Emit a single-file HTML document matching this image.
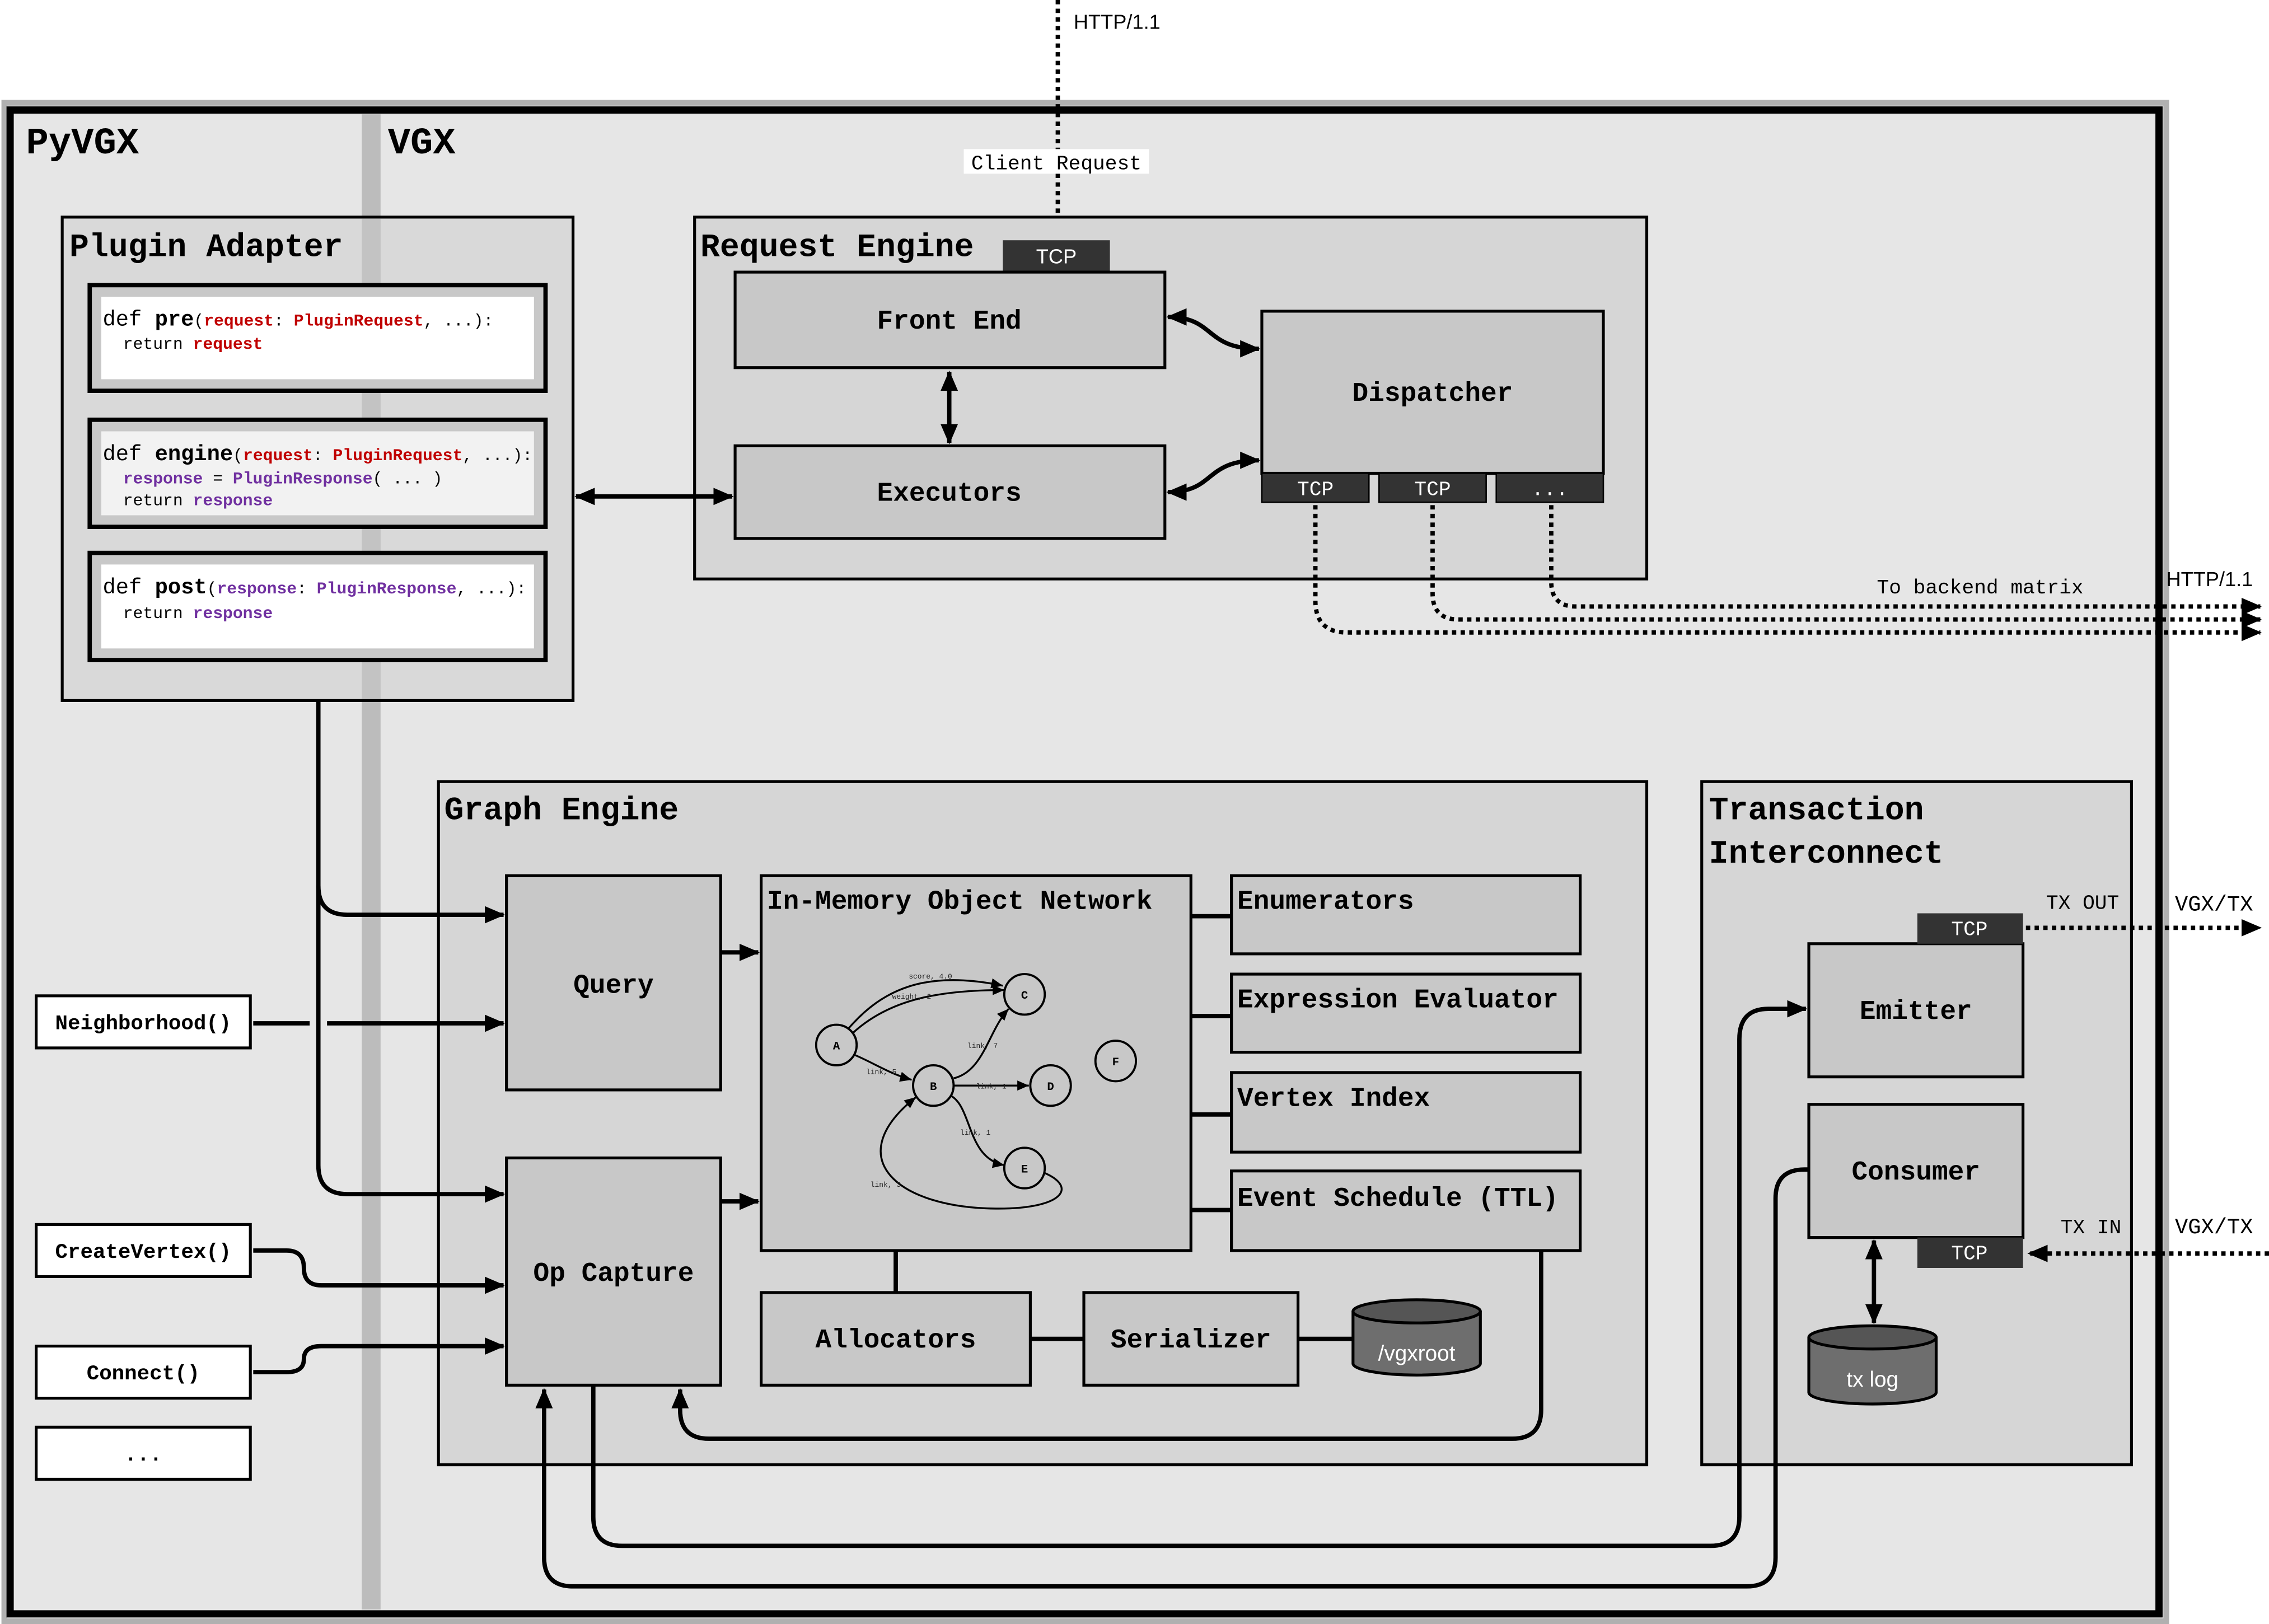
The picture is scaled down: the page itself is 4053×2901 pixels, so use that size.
<!DOCTYPE html>
<html><head><meta charset="utf-8"><style>
html,body{margin:0;padding:0;background:#fff}
svg{display:block}
text{font-family:"Liberation Mono",monospace}
.t{font-weight:bold;font-size:22.5px}
.b{font-weight:bold;font-size:18.5px}
.s{font-family:"Liberation Sans",sans-serif}
</style></head><body>
<svg width="4053" height="2901" viewBox="0 0 1568 1122" preserveAspectRatio="none" xmlns="http://www.w3.org/2000/svg">
<defs>
<marker id="a" markerUnits="userSpaceOnUse" markerWidth="14" markerHeight="12" refX="13" refY="6" orient="auto-start-reverse"><path d="M0,0 L14,6 L0,12 z" fill="#000"/></marker>
<marker id="m" markerUnits="userSpaceOnUse" markerWidth="8" markerHeight="7" refX="8" refY="3.5" orient="auto"><path d="M0,0 L8,3.5 L0,7 z" fill="#000"/></marker>
</defs>
<rect width="1568" height="1122" fill="#fff"/>
<!-- outer frame -->
<rect x="3" y="71" width="1494" height="1049" fill="none" stroke="#b0b0b0" stroke-width="4"/>
<rect x="7" y="76" width="1485" height="1039" fill="#e6e6e6" stroke="#000" stroke-width="5"/>
<rect x="250" y="79" width="13" height="1033" fill="#bcbcbc"/>
<text x="18" y="106" class="t" style="font-size:26px">PyVGX</text>
<text x="268" y="106" class="t" style="font-size:26px">VGX</text>

<!-- Plugin Adapter -->
<rect x="43" y="150" width="353" height="334" fill="#d6d6d6" fill-opacity="0.85" stroke="#000" stroke-width="2"/>
<rect x="250" y="151" width="13" height="332" fill="#bcbcbc" fill-opacity="0.7"/>
<text x="48" y="177" class="t">Plugin Adapter</text>
<g stroke="#000" stroke-width="3" fill="#c8c8c8">
<rect x="62" y="197" width="315" height="73"/>
<rect x="62" y="290" width="315" height="74"/>
<rect x="62" y="382" width="315" height="74"/>
</g>
<rect x="70" y="205" width="299" height="57" fill="#fff"/>
<rect x="70" y="298" width="299" height="58" fill="#f2f2f2"/>
<rect x="70" y="390" width="299" height="58" fill="#fff"/>
<text x="71" y="225" style="font-size:15px">def <tspan font-weight="bold">pre</tspan><tspan font-size="11.5">(<tspan fill="#c00000" font-weight="bold">request</tspan>: <tspan fill="#c00000" font-weight="bold">PluginRequest</tspan>, ...):</tspan></text>
<text x="85" y="241" style="font-size:11.5px">return <tspan fill="#c00000" font-weight="bold">request</tspan></text>
<text x="71" y="318" style="font-size:15px">def <tspan font-weight="bold">engine</tspan><tspan font-size="11.5">(<tspan fill="#c00000" font-weight="bold">request</tspan>: <tspan fill="#c00000" font-weight="bold">PluginRequest</tspan>, ...):</tspan></text>
<text x="85" y="334" style="font-size:11.5px"><tspan fill="#7030a0" font-weight="bold">response</tspan> = <tspan fill="#7030a0" font-weight="bold">PluginResponse</tspan>( ... )</text>
<text x="85" y="349" style="font-size:11.5px">return <tspan fill="#7030a0" font-weight="bold">response</tspan></text>
<text x="71" y="410" style="font-size:15px">def <tspan font-weight="bold">post</tspan><tspan font-size="11.5">(<tspan fill="#7030a0" font-weight="bold">response</tspan>: <tspan fill="#7030a0" font-weight="bold">PluginResponse</tspan>, ...):</tspan></text>
<text x="85" y="427" style="font-size:11.5px">return <tspan fill="#7030a0" font-weight="bold">response</tspan></text>

<!-- Client request -->
<line x1="731" y1="0" x2="731" y2="164" stroke="#000" stroke-width="3" stroke-dasharray="3 3" marker-end="url(#a)"/>
<text x="742" y="20" class="s" font-size="14">HTTP/1.1</text>
<rect x="666" y="103" width="128" height="17" fill="#fff"/>
<text x="730" y="117" font-size="14" text-anchor="middle">Client Request</text>

<!-- Request Engine -->
<rect x="480" y="150" width="658" height="250" fill="#d6d6d6" stroke="#000" stroke-width="2"/>
<text x="484" y="177" class="t">Request Engine</text>
<rect x="693" y="166" width="74" height="21" fill="#333"/>
<text x="730" y="182" text-anchor="middle" fill="#fff" class="s" font-size="14">TCP</text>
<g fill="#c8c8c8" stroke="#000" stroke-width="2">
<rect x="508" y="188" width="297" height="66"/>
<rect x="508" y="308" width="297" height="64"/>
<rect x="872" y="215" width="236" height="112"/>
</g>
<text x="656" y="227" text-anchor="middle" class="b">Front End</text>
<text x="656" y="346" text-anchor="middle" class="b">Executors</text>
<text x="990" y="277" text-anchor="middle" class="b">Dispatcher</text>
<g fill="#333" stroke="#000" stroke-width="1"><rect x="872" y="327" width="74" height="20"/><rect x="953" y="327" width="74" height="20"/><rect x="1034" y="327" width="74" height="20"/></g>
<g fill="#fff" class="s" font-size="14" text-anchor="middle"><text x="909" y="342">TCP</text><text x="990" y="342">TCP</text><text x="1071" y="342">...</text></g>
<g stroke="#000" stroke-width="3" fill="none">
<line x1="656" y1="257" x2="656" y2="306" marker-start="url(#a)" marker-end="url(#a)"/>
<line x1="398" y1="343" x2="506" y2="343" marker-start="url(#a)" marker-end="url(#a)"/>
<path d="M807,219 C840,219 832,241 870,241" marker-start="url(#a)" marker-end="url(#a)"/>
<path d="M807,340 C840,340 832,318 870,318" marker-start="url(#a)" marker-end="url(#a)"/>
</g>
<g stroke="#000" stroke-width="3" fill="none" stroke-dasharray="3 3">
<path d="M909,349 V415 Q909,437 931,437 H1562" marker-end="url(#a)"/>
<path d="M990,349 V410 Q990,428 1008,428 H1562" marker-end="url(#a)"/>
<path d="M1072,349 V402 Q1072,419 1089,419 H1562" marker-end="url(#a)"/>
</g>
<text x="1297" y="410" font-size="14">To backend matrix</text>
<text x="1497" y="405" class="s" font-size="14">HTTP/1.1</text>

<!-- Graph Engine -->
<rect x="303" y="540" width="835" height="472" fill="#d6d6d6" stroke="#000" stroke-width="2"/>
<text x="307" y="566" class="t">Graph Engine</text>
<g fill="#c8c8c8" stroke="#000" stroke-width="2">
<rect x="350" y="605" width="148" height="148"/>
<rect x="350" y="800" width="148" height="157"/>
<rect x="526" y="605" width="297" height="259"/>
<rect x="851" y="605" width="241" height="54"/>
<rect x="851" y="673" width="241" height="54"/>
<rect x="851" y="741" width="241" height="55"/>
<rect x="851" y="809" width="241" height="55"/>
<rect x="526" y="893" width="186" height="64"/>
<rect x="749" y="893" width="148" height="64"/>
</g>
<text x="424" y="686" text-anchor="middle" class="b">Query</text>
<text x="424" y="885" text-anchor="middle" class="b">Op Capture</text>
<text x="530" y="628" class="b">In-Memory Object Network</text>
<text x="855" y="628" class="b">Enumerators</text>
<text x="855" y="696" class="b">Expression Evaluator</text>
<text x="855" y="764" class="b">Vertex Index</text>
<text x="855" y="833" class="b">Event Schedule (TTL)</text>
<text x="619" y="931" text-anchor="middle" class="b">Allocators</text>
<text x="823" y="931" text-anchor="middle" class="b">Serializer</text>
<g stroke="#000" stroke-width="3">
<line x1="823" y1="633" x2="851" y2="633"/><line x1="823" y1="702" x2="851" y2="702"/>
<line x1="823" y1="770" x2="851" y2="770"/><line x1="823" y1="836" x2="851" y2="836"/>
<line x1="619" y1="864" x2="619" y2="893"/><line x1="712" y1="925" x2="749" y2="925"/><line x1="897" y1="925" x2="935" y2="925"/>
</g>
<!-- vgxroot cylinder -->
<path d="M935,906 V942 A44,8 0 0 0 1023,942 V906" fill="#6e6e6e" stroke="#000" stroke-width="2"/>
<ellipse cx="979" cy="906" rx="44" ry="8" fill="#555" stroke="#000" stroke-width="2"/>
<text x="979" y="940" text-anchor="middle" fill="#fff" class="s" font-size="15">/vgxroot</text>
<g stroke="#000" stroke-width="3" fill="none">
<line x1="498" y1="658" x2="524" y2="658" marker-end="url(#a)"/>
<line x1="498" y1="830" x2="524" y2="830" marker-end="url(#a)"/>
<path d="M1065,864 V974 Q1065,994 1045,994 H490 Q470,994 470,974 V960" marker-end="url(#a)"/>
</g>
<!-- network -->
<g stroke="#000" stroke-width="1.3" fill="none">
<path d="M586,711 C610,683 640,670 693,681" marker-end="url(#m)"/>
<path d="M589,714 C615,690 650,684 694,684" marker-end="url(#m)"/>
<path d="M591,729 C605,735 615,742 630,746" marker-end="url(#m)"/>
<path d="M659,745 C680,740 683,712 697,697" marker-end="url(#m)"/>
<path d="M659,750 H711" marker-end="url(#m)"/>
<path d="M657,757 C672,765 668,800 694,805" marker-end="url(#m)"/>
<path d="M721,810 C745,820 735,835 690,835 C620,835 580,800 633,758" marker-end="url(#m)"/>
</g>
<g fill="#c8c8c8" stroke="#000" stroke-width="1.5">
<circle cx="578" cy="722" r="14"/><circle cx="645" cy="750" r="14"/><circle cx="708" cy="687" r="14"/>
<circle cx="726" cy="750" r="14"/><circle cx="708" cy="807" r="14"/><circle cx="771" cy="733" r="14"/>
</g>
<g class="s" font-size="8" font-weight="bold" text-anchor="middle">
<text x="578" y="725">A</text><text x="645" y="753">B</text><text x="708" y="690">C</text>
<text x="726" y="753">D</text><text x="708" y="810">E</text><text x="771" y="736">F</text>
</g>
<g class="s" font-size="5" text-anchor="middle" fill="#222">
<text x="643" y="676">score, 4.0</text><text x="630" y="690">weight, 2</text>
<text x="609" y="742">link, 5</text><text x="679" y="724">link, 7</text>
<text x="685" y="752">link, 1</text><text x="674" y="784">link, 1</text><text x="612" y="820">link, 3</text>
</g>

<!-- left functions -->
<g fill="#fff" stroke="#000" stroke-width="2">
<rect x="25" y="688" width="148" height="36"/><rect x="25" y="846" width="148" height="36"/>
<rect x="25" y="930" width="148" height="36"/><rect x="25" y="986" width="148" height="36"/>
</g>
<g font-size="14.5" font-weight="bold" text-anchor="middle">
<text x="99" y="711">Neighborhood()</text><text x="99" y="869">CreateVertex()</text>
<text x="99" y="953">Connect()</text><text x="99" y="1009">...</text>
</g>
<g stroke="#000" stroke-width="3" fill="none">
<path d="M220,484 V612 Q220,632 240,632 H348" marker-end="url(#a)"/>
<path d="M220,612 V805 Q220,825 240,825 H348" marker-end="url(#a)"/>
<line x1="175" y1="707" x2="214" y2="707"/>
<line x1="226" y1="707" x2="348" y2="707" marker-end="url(#a)"/>
<path d="M175,864 H198 Q210,864 210,876 Q210,888 222,888 H348" marker-end="url(#a)"/>
<path d="M175,948 H198 Q210,948 210,939 Q210,930 222,930 H348" marker-end="url(#a)"/>
</g>

<!-- Transaction Interconnect -->
<rect x="1176" y="540" width="297" height="472" fill="#d6d6d6" stroke="#000" stroke-width="2"/>
<text x="1181" y="566" class="t">Transaction</text>
<text x="1181" y="596" class="t">Interconnect</text>
<g fill="#c8c8c8" stroke="#000" stroke-width="2">
<rect x="1250" y="652" width="148" height="92"/><rect x="1250" y="763" width="148" height="92"/>
</g>
<rect x="1325" y="631" width="73" height="21" fill="#333"/><rect x="1325" y="855" width="73" height="21" fill="#333"/>
<g fill="#fff" class="s" font-size="14" text-anchor="middle"><text x="1361" y="646">TCP</text><text x="1361" y="870">TCP</text></g>
<text x="1324" y="704" text-anchor="middle" class="b">Emitter</text>
<text x="1324" y="815" text-anchor="middle" class="b">Consumer</text>
<path d="M1250,924 V962 A44,8 0 0 0 1338,962 V924" fill="#6e6e6e" stroke="#000" stroke-width="2"/>
<ellipse cx="1294" cy="924" rx="44" ry="8" fill="#555" stroke="#000" stroke-width="2"/>
<text x="1294" y="958" text-anchor="middle" fill="#fff" class="s" font-size="15">tx log</text>
<g stroke="#000" stroke-width="3" fill="none">
<line x1="1295" y1="857" x2="1295" y2="914" marker-start="url(#a)" marker-end="url(#a)"/>
<path d="M410,957 V1048 Q410,1068 430,1068 H1182 Q1202,1068 1202,1048 V718 Q1202,697 1222,697 H1248" marker-end="url(#a)"/>
<path d="M1250,808 H1247 Q1227,808 1227,828 V1076 Q1227,1096 1207,1096 H396 Q376,1096 376,1076 V960" marker-end="url(#a)"/>
</g>
<g stroke="#000" stroke-width="3" fill="none" stroke-dasharray="3 3">
<line x1="1400" y1="641" x2="1562" y2="641" marker-end="url(#a)"/>
<line x1="1568" y1="866" x2="1402" y2="866" marker-end="url(#a)"/>
</g>
<g font-size="14"><text x="1414" y="628">TX OUT</text><text x="1424" y="852">TX IN</text></g>
<g class="s" font-size="15"><text x="1503" y="629">VGX/TX</text><text x="1503" y="852">VGX/TX</text></g>
</svg>
</body></html>
